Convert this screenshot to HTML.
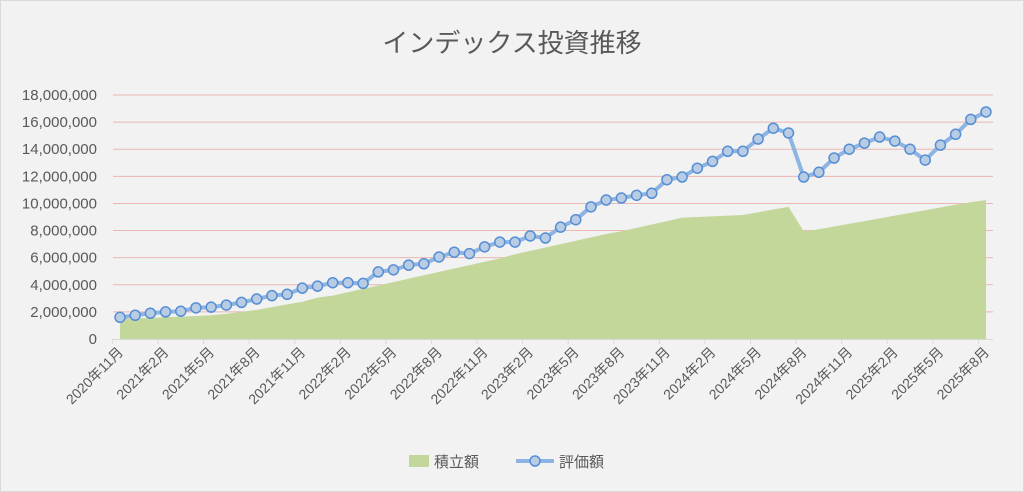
<!DOCTYPE html>
<html><head><meta charset="utf-8">
<style>
html,body{margin:0;padding:0;background:#fff;}
svg{display:block;font-family:"Liberation Sans","Noto Sans CJK JP",sans-serif;}
</style></head>
<body>
<svg id="c" width="1024" height="492" viewBox="0 0 1024 492">
<rect x="0.5" y="0.5" width="1023" height="491" fill="#f2f2f2" stroke="#d9d9d9"/>
<text x="512" y="52" text-anchor="middle" font-size="26" fill="#595959">インデックス投資推移</text>
<g id="grid"></g>
<g id="area"></g>
<g id="line"></g>
<g id="yaxis"></g>
<g id="xaxis"></g>
<g>
<rect x="409" y="455" width="20" height="12" fill="#c4d79b"/>
<text x="434" y="467" font-size="15" fill="#595959">積立額</text>
<line x1="516" y1="461" x2="554" y2="461" stroke="#8db4e2" stroke-width="4"/>
<circle cx="535" cy="461" r="5" fill="#b8cce4" stroke="#558ed5" stroke-width="1.5"/>
<text x="559" y="467" font-size="15" fill="#595959">評価額</text>
</g>
</svg>
<script>
const categories = (function(){const a=[];let y=2020,m=11;for(let i=0;i<58;i++){a.push(y+"年"+m+"月");m++;if(m>12){m=1;y++;}}return a;})();
const contribution = [1.5,1.52,1.55,1.6,1.65,1.7,1.75,1.85,2.0,2.15,2.35,2.55,2.75,3.05,3.2,3.45,3.7,3.95,4.2,4.45,4.7,4.95,5.2,5.45,5.7,5.95,6.25,6.5,6.75,7.0,7.25,7.5,7.75,7.95,8.2,8.45,8.7,8.95,9.0,9.05,9.1,9.15,9.35,9.55,9.75,7.95,8.1,8.3,8.5,8.7,8.9,9.1,9.3,9.5,9.7,9.9,10.1,10.25];
const valuation = [1.6,1.75,1.9,2.0,2.05,2.3,2.35,2.5,2.7,2.95,3.2,3.3,3.75,3.9,4.15,4.15,4.1,4.95,5.1,5.45,5.55,6.05,6.4,6.3,6.8,7.15,7.15,7.6,7.45,8.25,8.8,9.75,10.25,10.4,10.6,10.75,11.75,11.95,12.6,13.1,13.85,13.85,14.75,15.55,15.2,11.95,12.3,13.35,14.0,14.45,14.9,14.6,14.0,13.2,14.3,15.1,16.2,16.75];
const yTicks = [0,2,4,6,8,10,12,14,16,18];
const yTickLabels = ["0","2,000,000","4,000,000","6,000,000","8,000,000","10,000,000","12,000,000","14,000,000","16,000,000","18,000,000"];
const NS="http://www.w3.org/2000/svg";
const X0=120,X1=986,Y0=339,Y1=95,L=113,R=993;
function xs(i){return X0+(X1-X0)*i/(categories.length-1);}
function ys(v){return Y0-(Y0-Y1)*v/18;}
function mk(t,at,p){const e=document.createElementNS(NS,t);for(const k in at)e.setAttribute(k,at[k]);p.appendChild(e);return e;}
const grid=document.getElementById('grid'),yax=document.getElementById('yaxis');
yTicks.forEach((v,i)=>{
  if(v>0){const g=mk('line',{x1:L,x2:R,y1:ys(v),y2:ys(v),stroke:'#eab7b2','stroke-width':1},grid);
  
  }
  const t=mk('text',{x:97,y:ys(v)+5,'text-anchor':'end','font-size':15,fill:'#595959'},yax);
  t.textContent=yTickLabels[i];
  
  
});
const base=mk('line',{x1:L,x2:R,y1:Y0+0.5,y2:Y0+0.5,stroke:'#d9d9d9','stroke-width':1},grid);


let d='M'+xs(0)+','+Y0;
contribution.forEach((v,i)=>{d+=' L'+xs(i)+','+ys(v);});
d+=' L'+xs(contribution.length-1)+','+Y0+' Z';
const ar=mk('path',{d:d,fill:'#c4d79b'},document.getElementById('area'));


const lg=document.getElementById('line');
const pl=mk('polyline',{points:valuation.map((v,i)=>xs(i)+','+ys(v)).join(' '),fill:'none',stroke:'#8db4e2','stroke-width':4,'stroke-linejoin':'round'},lg);


valuation.forEach((v,i)=>{
  const c=mk('circle',{cx:xs(i),cy:ys(v),r:5,fill:'#b8cce4',stroke:'#558ed5','stroke-width':1.5},lg);
  
  
});
const xa=document.getElementById('xaxis');
const step=(X1-X0)/(categories.length-1);
for(let i=0;i<categories.length;i+=3){
  const tx=xs(i)-step/2;
  const tk=mk('line',{x1:tx,x2:tx,y1:Y0,y2:Y0+5,stroke:'#d9d9d9'},xa);
  
  
  const t=mk('text',{x:xs(i)+4,y:Y0+14,'text-anchor':'end','font-size':14,fill:'#595959',transform:'rotate(-45 '+(xs(i)+4)+' '+(Y0+14)+')'},xa);
  t.textContent=categories[i];
  
  
}
</script>
</body></html>
